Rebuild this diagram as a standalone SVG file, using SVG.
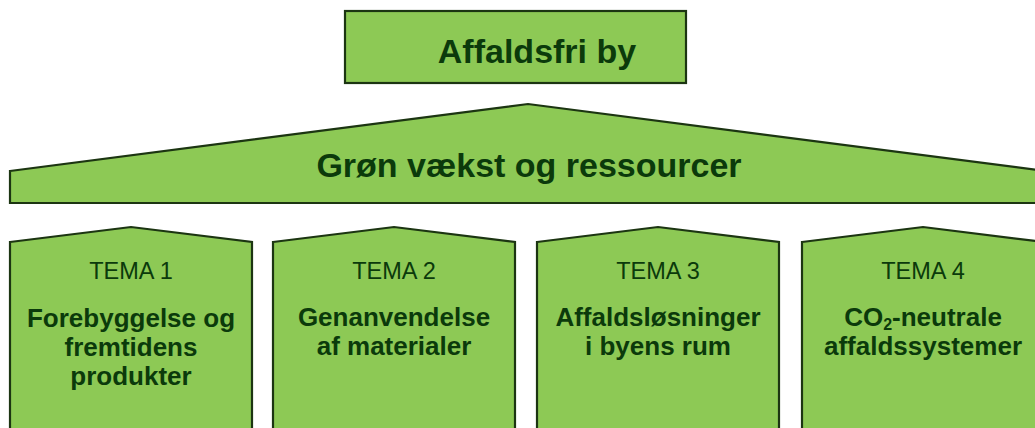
<svg xmlns="http://www.w3.org/2000/svg" width="1035" height="428" viewBox="0 0 1035 428">
  <defs>
    <style>
      .shape { fill: #8dc955; stroke: #1c3512; stroke-width: 2.2; stroke-linejoin: miter; }
      text { font-family: "Liberation Sans", Arial, sans-serif; fill: #0b3a0b; text-anchor: middle; }
      .big { font-size: 34px; font-weight: bold; }
      .tema { font-size: 23.5px; }
      .title { font-size: 26px; font-weight: bold; }
    </style>
  </defs>
  <g id="top">
    <rect class="shape" x="345" y="11" width="341" height="72"/>
    <text class="big" x="537" y="63">Affaldsfri by</text>
  </g>
  <g id="roof">
    <polygon class="shape" points="10,171 528,104 1046,171 1046,203 10,203"/>
    <text class="big" x="529" y="177">Grøn vækst og ressourcer</text>
  </g>
  <g id="tema1">
    <polygon class="shape" points="10,242 131,227 252,242 252,440 10,440"/>
    <text class="tema" x="131" y="279">TEMA 1</text>
    <text class="title" x="131" y="327">Forebyggelse og</text>
    <text class="title" x="131" y="356">fremtidens</text>
    <text class="title" x="131" y="385">produkter</text>
  </g>
  <g id="tema2">
    <polygon class="shape" points="273,242 394,227 515,242 515,440 273,440"/>
    <text class="tema" x="394" y="279">TEMA 2</text>
    <text class="title" x="394" y="326">Genanvendelse</text>
    <text class="title" x="394" y="355">af materialer</text>
  </g>
  <g id="tema3">
    <polygon class="shape" points="537,242 658,227 779,242 779,440 537,440"/>
    <text class="tema" x="658" y="279">TEMA 3</text>
    <text class="title" x="658" y="326">Affaldsløsninger</text>
    <text class="title" x="658" y="355">i byens rum</text>
  </g>
  <g id="tema4">
    <polygon class="shape" points="802,242 923,227 1044,242 1044,440 802,440"/>
    <text class="tema" x="923" y="279">TEMA 4</text>
    <text class="title" x="923" y="326">CO<tspan font-size="16" dy="4">2</tspan><tspan dy="-4">-neutrale</tspan></text>
    <text class="title" x="923" y="355">affaldssystemer</text>
  </g>
  <g id="connectors"></g>
</svg>
